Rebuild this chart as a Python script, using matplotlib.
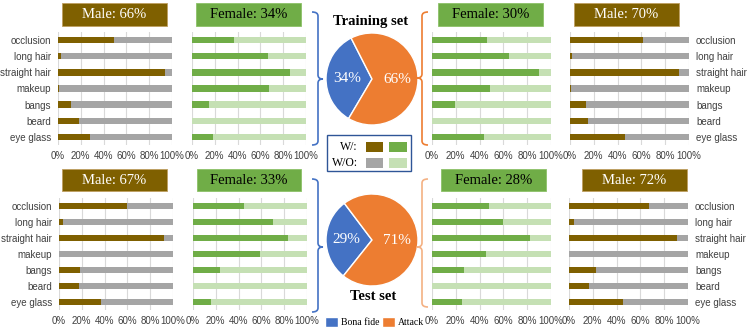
import matplotlib
matplotlib.use('Agg')
import matplotlib.pyplot as plt
from matplotlib.patches import Rectangle, PathPatch
from matplotlib.path import Path

W, H = 747, 330
SERIF = 'Liberation Serif'
SANS = 'Liberation Sans'

categories = ['occlusion', 'long hair', 'straight hair', 'makeup', 'bangs', 'beard', 'eye glass']
tick_vals = [0, 0.2, 0.4, 0.6, 0.8, 1.0]
tick_labels = ['0%', '20%', '40%', '60%', '80%', '100%']

# fraction of images WITH attribute
train_bf_male = [0.49, 0.023, 0.94, 0.005, 0.11, 0.18, 0.28]
train_bf_female = [0.365, 0.67, 0.86, 0.675, 0.15, 0.0, 0.18]
train_att_female = [0.46, 0.65, 0.90, 0.49, 0.19, 0.0, 0.435]
train_att_male = [0.615, 0.02, 0.92, 0.01, 0.135, 0.15, 0.46]
test_bf_male = [0.60, 0.035, 0.92, 0.0, 0.18, 0.175, 0.37]
test_bf_female = [0.45, 0.70, 0.83, 0.585, 0.24, 0.0, 0.16]
test_att_female = [0.475, 0.595, 0.82, 0.45, 0.27, 0.0, 0.25]
test_att_male = [0.675, 0.04, 0.905, 0.0, 0.23, 0.165, 0.45]

train_titles = ['Male: 66%', 'Female: 34%', 'Female: 30%', 'Male: 70%']
test_titles = ['Male: 67%', 'Female: 33%', 'Female: 28%', 'Male: 72%']

pie_labels = ['Bona fide', 'Attack']
train_pie = [34, 66]
test_pie = [29, 71]

BROWN, GRAY = '#7F6000', '#A5A5A5'
GREEN, LGREEN = '#70AD47', '#C5E0B4'
BLUE, ORANGE = '#4472C4', '#ED7D31'

fig = plt.figure(figsize=(W / 100, H / 100), dpi=100)


def fx(x):
    return x / W


def fy(y):
    return 1 - y / H


def axes_px(x0, y0, x1, y1):
    return fig.add_axes([fx(x0), fy(y1), (x1 - x0) / W, (y1 - y0) / H])


def rect_px(x0, y0, x1, y1, **kw):
    r = Rectangle((fx(x0), fy(y1)), (x1 - x0) / W, (y1 - y0) / H,
                  transform=fig.transFigure, **kw)
    fig.add_artist(r)
    return r


def panel(x0, x1, y0, y1, vals, male, side):
    wcol, wocol = (BROWN, GRAY) if male else (GREEN, LGREEN)
    ax = axes_px(x0, y0, x1, y1)
    ys = list(range(len(categories)))
    ax.barh(ys, [1.0] * len(ys), height=0.4, color=wocol, zorder=2)
    ax.barh(ys, vals, height=0.4, color=wcol, zorder=3)
    ax.set_xlim(0, 1)
    ax.set_ylim(len(ys) - 0.5, -0.5)
    ax.set_xticks(tick_vals)
    ax.set_xticklabels(tick_labels, fontfamily=SANS, fontsize=7, color='#404040')
    ax.grid(axis='x', color='#D9D9D9', lw=0.8, zorder=0)
    ax.set_axisbelow(True)
    for s in ax.spines.values():
        s.set_visible(False)
    ax.tick_params(length=0, pad=4.5)
    if side == 'left':
        ax.set_yticks(ys)
        ax.set_yticklabels(categories, fontfamily=SANS, fontsize=7, color='#404040')
        ax.tick_params(axis='y', pad=5)
    elif side == 'right':
        ax.yaxis.tick_right()
        ax.set_yticks(ys)
        ax.set_yticklabels(categories, fontfamily=SANS, fontsize=7, color='#404040')
        ax.tick_params(axis='y', pad=5, length=0)
    else:
        ax.set_yticks([])
    return ax


def title_box(x0, x1, y0, y1, text, male):
    fc = BROWN if male else GREEN
    tc = 'white' if male else 'black'
    rect_px(x0, y0, x1, y1, facecolor=fc, edgecolor='#BF9F60' if male else '#8CC168', lw=0.6)
    fig.text(fx((x0 + x1) / 2), fy((y0 + y1) / 2), text, ha='center', va='center',
             fontfamily=SERIF, fontsize=10.5, color=tc)


def brace(xs, xv, xt, yt, yb, ym, color, r=4):
    pts = [(xs, yt), (xv, yt), (xv, yt + r), (xv, ym - r), (xv, ym), (xt, ym),
           (xv, ym), (xv, ym + r), (xv, yb - r), (xv, yb), (xs, yb)]
    codes = [Path.MOVETO, Path.CURVE3, Path.CURVE3, Path.LINETO, Path.CURVE3, Path.CURVE3,
             Path.CURVE3, Path.CURVE3, Path.LINETO, Path.CURVE3, Path.CURVE3]
    p = Path([(fx(x), fy(y)) for x, y in pts], codes)
    fig.add_artist(PathPatch(p, facecolor='none', edgecolor=color, lw=1.2,
                             transform=fig.transFigure))


# ---- top row (training) ----
top = (32, 145)
panel(58, 172, *top, train_bf_male, True, 'left')
panel(192, 306, *top, train_bf_female, False, None)
panel(432, 551, *top, train_att_female, False, None)
panel(570, 689, *top, train_att_male, True, 'right')
title_box(62, 167, 3, 26, train_titles[0], True)
title_box(196, 301, 3, 26, train_titles[1], False)
title_box(438, 543, 3, 26, train_titles[2], False)
title_box(574, 679, 3, 26, train_titles[3], True)

# ---- bottom row (test) ----
bot = (198, 310)
panel(59, 173, *bot, test_bf_male, True, 'left')
panel(193, 307, *bot, test_bf_female, False, None)
panel(432, 551, *bot, test_att_female, False, None)
panel(569, 688, *bot, test_att_male, True, 'right')
title_box(62, 167, 169, 191, test_titles[0], True)
title_box(197, 301, 169, 191, test_titles[1], False)
title_box(441, 546, 169, 191, test_titles[2], False)
title_box(582, 687, 169, 191, test_titles[3], True)


# ---- pies ----
def pie(cx, cy, rad, vals, start):
    ax = axes_px(cx - rad, cy - rad, cx + rad, cy + rad)
    wedges, texts, autotexts = ax.pie(
        vals, colors=[BLUE, ORANGE], startangle=start, counterclock=True,
        autopct='%d%%', pctdistance=0.55, radius=1,
        wedgeprops=dict(edgecolor='white', linewidth=1))
    for t in autotexts:
        t.set_color('white')
        t.set_fontfamily(SERIF)
        t.set_fontsize(11)
    ax.set_xlim(-1, 1)
    ax.set_ylim(-1, 1)
    ax.set_aspect('equal')
    ax.axis('off')
    return wedges


wedges = pie(372, 79, 46, train_pie, 117)
pie(372, 240, 46, test_pie, 127)

fig.text(fx(371), fy(21), 'Training set', ha='center', va='center',
         fontfamily=SERIF, fontsize=10.5, fontweight='bold')
fig.text(fx(373), fy(297), 'Test set', ha='center', va='center',
         fontfamily=SERIF, fontsize=10.5, fontweight='bold')

# ---- braces ----
brace(312, 318, 323, 12, 145, 79, BLUE)
brace(312, 318, 323, 179, 312, 247, BLUE)
brace(428, 422, 417, 12, 145, 78, ORANGE)
brace(428, 422, 417, 179, 307, 247, '#F4B183')

# ---- W/ W/O legend ----
rect_px(327, 135, 411, 171, facecolor='white', edgecolor='#2F5597', lw=1)
fig.text(fx(358), fy(147), 'W/:', ha='right', va='center', fontfamily=SERIF, fontsize=8.5)
fig.text(fx(358), fy(163), 'W/O:', ha='right', va='center', fontfamily=SERIF, fontsize=8.5)
rect_px(366, 142, 383, 152, facecolor=BROWN, edgecolor='none')
rect_px(389, 142, 407, 152, facecolor=GREEN, edgecolor='none')
rect_px(366, 158, 383, 168, facecolor=GRAY, edgecolor='none')
rect_px(389, 158, 407, 168, facecolor=LGREEN, edgecolor='none')

# ---- pie legend ----
leg = fig.legend(wedges, pie_labels, loc='center left', bbox_to_anchor=(fx(325), fy(322)),
                 ncol=2, frameon=False, prop=dict(family=SERIF, size=7),
                 handlelength=1.3, handleheight=1.3, handletextpad=0.3,
                 columnspacing=0.35, borderpad=0, borderaxespad=0)

fig.savefig('out.png', dpi=100)
